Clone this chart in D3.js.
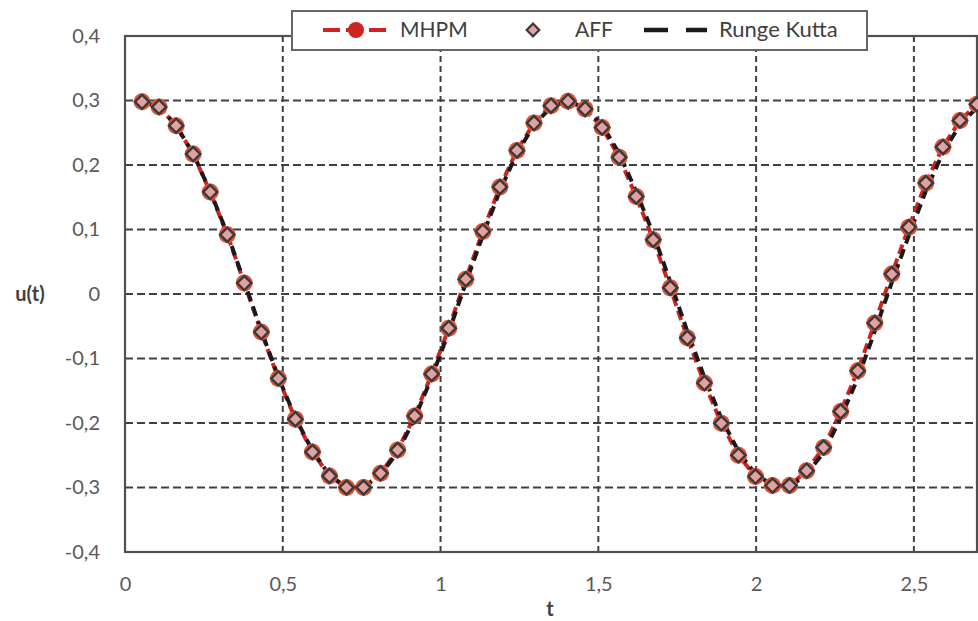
<!DOCTYPE html>
<html><head><meta charset="utf-8">
<script src="https://cdn.jsdelivr.net/npm/d3@7"></script>
<style>body{margin:0;background:#fff} svg{display:block} text{font-family:Lato, "Open Sans", sans-serif}</style>
</head><body><svg id="c" width="978" height="621"></svg>
<script>
const tValues = [0.054,0.108,0.162,0.216,0.270,0.324,0.378,0.432,0.486,0.540,
  0.594,0.648,0.702,0.756,0.810,0.864,0.918,0.972,1.026,1.080,
  1.134,1.188,1.242,1.296,1.350,1.404,1.458,1.512,1.566,1.620,
  1.674,1.728,1.782,1.836,1.890,1.944,1.998,2.052,2.106,2.160,
  2.214,2.268,2.322,2.376,2.430,2.484,2.538,2.592,2.646,2.700];
const mhpmValues = [0.298,0.290,0.261,0.217,0.158,0.092,0.017,-0.059,-0.131,-0.194,
  -0.245,-0.282,-0.300,-0.300,-0.278,-0.242,-0.189,-0.124,-0.053,0.023,
  0.097,0.166,0.2225,0.265,0.292,0.299,0.287,0.258,0.212,0.151,
  0.084,0.0095,-0.068,-0.138,-0.2005,-0.250,-0.283,-0.297,-0.297,-0.274,
  -0.238,-0.182,-0.119,-0.045,0.031,0.1035,0.172,0.228,0.269,0.294];
const affValues = [0.298,0.290,0.261,0.217,0.158,0.092,0.017,-0.059,-0.131,-0.194,
  -0.245,-0.282,-0.300,-0.300,-0.278,-0.242,-0.189,-0.124,-0.053,0.023,
  0.097,0.166,0.2225,0.265,0.292,0.299,0.287,0.258,0.212,0.151,
  0.084,0.0095,-0.068,-0.138,-0.2005,-0.250,-0.283,-0.297,-0.297,-0.274,
  -0.238,-0.182,-0.119,-0.045,0.031,0.1035,0.172,0.228,0.269,0.294];
const rkValues = [0.298,0.290,0.261,0.218,0.159,0.094,0.019,-0.057,-0.129,-0.192,
  -0.243,-0.281,-0.2995,-0.300,-0.280,-0.245,-0.193,-0.129,-0.059,0.017,
  0.091,0.160,0.218,0.262,0.290,0.299,0.289,0.262,0.218,0.159,
  0.093,0.019,-0.058,-0.129,-0.193,-0.244,-0.2795,-0.296,-0.299,-0.279,
  -0.246,-0.192,-0.131,-0.058,0.018,0.0905,0.160,0.219,0.2625,0.289];
const xTickValues = [0,0.5,1,1.5,2,2.5];
const xTickLabels = ["0","0,5","1","1,5","2","2,5"];
const yTickValues = [-0.4,-0.3,-0.2,-0.1,0,0.1,0.2,0.3,0.4];
const yTickLabels = ["-0,4","-0,3","-0,2","-0,1","0","0,1","0,2","0,3","0,4"];
const seriesNames = ["MHPM","AFF","Runge Kutta"];

const svg = d3.select("#c");
const L=125, R=977, T=36, B=552;
const x = d3.scaleLinear().domain([0,2.7]).range([L,R]);
const y = d3.scaleLinear().domain([-0.4,0.4]).range([B,T]);

// grid
const grid = svg.append("g");
grid.selectAll("line.h").data(yTickValues.filter(v=>v>-0.39&&v<0.39)).join("line")
  .attr("x1",L).attr("x2",R).attr("y1",d=>y(d)).attr("y2",d=>y(d))
  .attr("stroke","#404040").attr("stroke-width",2).attr("stroke-dasharray","8,4");
grid.selectAll("line.v").data(xTickValues.filter(v=>v>0)).join("line")
  .attr("x1",d=>x(d)).attr("x2",d=>x(d)).attr("y1",T).attr("y2",B)
  .attr("stroke","#404040").attr("stroke-width",2).attr("stroke-dasharray","6,4");

// axes
const yAxis = d3.axisLeft(y).tickValues(yTickValues).tickSize(0).tickPadding(25)
  .tickFormat((d,i)=>yTickLabels[i]);
const gy = svg.append("g").attr("transform",`translate(${L},0)`).call(yAxis);
gy.select(".domain").remove();
gy.selectAll("text").attr("font-size",20).attr("fill","#595959");
const xAxis = d3.axisBottom(x).tickValues(xTickValues).tickSize(0).tickPadding(25)
  .tickFormat((d,i)=>xTickLabels[i]);
const gx = svg.append("g").attr("transform",`translate(0,${B})`).call(xAxis);
gx.select(".domain").remove();
gx.selectAll("text").attr("font-size",20).attr("fill","#595959");

// border
svg.append("rect").attr("x",L).attr("y",T).attr("width",R-L).attr("height",B-T)
  .attr("fill","none").attr("stroke","#505050").attr("stroke-width",2.2);

const pts = (vals)=>tValues.map((t,i)=>[t,vals[i]]);
const line = d3.line().x(d=>x(d[0])).y(d=>y(d[1]));
svg.append("path").datum(pts(mhpmValues)).attr("d",line).attr("fill","none")
  .attr("stroke","#cc2420").attr("stroke-width",4).attr("stroke-dasharray","10,5");
svg.append("path").datum(pts(rkValues)).attr("d",line).attr("fill","none")
  .attr("stroke","#1a1a1a").attr("stroke-width",4).attr("stroke-dasharray","10,6");
svg.append("g").selectAll("circle").data(pts(mhpmValues)).join("circle")
  .attr("cx",d=>x(d[0])).attr("cy",d=>y(d[1])).attr("r",8.5).attr("fill","#e0523a");
const diamond = d3.symbol(d3.symbolSquare, 100);
svg.append("g").selectAll("path").data(pts(affValues)).join("path")
  .attr("d",diamond).attr("transform",d=>`translate(${x(d[0])},${y(d[1])}) rotate(45)`)
  .attr("fill","#e3a2a2").attr("stroke","#3a3a3a").attr("stroke-width",2.4);

// axis titles
svg.append("text").attr("x",30).attr("y",301).attr("text-anchor","middle")
  .attr("font-size",20).attr("font-weight","bold").attr("fill","#404040").text("u(t)");
svg.append("text").attr("x",550).attr("y",616).attr("text-anchor","middle")
  .attr("font-size",20).attr("font-weight","bold").attr("fill","#404040").text("t");

// legend
const lg = svg.append("g");
lg.append("rect").attr("x",292).attr("y",11).attr("width",575).attr("height",39)
  .attr("fill","#fff").attr("stroke","#666").attr("stroke-width",2);
const ly = 30;
lg.append("line").attr("x1",323).attr("x2",387).attr("y1",ly).attr("y2",ly)
  .attr("stroke","#cc2420").attr("stroke-width",4).attr("stroke-dasharray","17,6");
lg.append("circle").attr("cx",356).attr("cy",ly).attr("r",8).attr("fill","#cc2420");
lg.append("text").attr("x",400).attr("y",ly+7).attr("font-size",21).attr("fill","#404040").text(seriesNames[0]);
lg.append("path").attr("d",d3.symbol(d3.symbolSquare, 80)).attr("transform",`translate(533,${ly}) rotate(45)`)
  .attr("fill","#e3a2a2").attr("stroke","#3a3a3a").attr("stroke-width",2.2);
lg.append("text").attr("x",575).attr("y",ly+7).attr("font-size",21).attr("fill","#404040").text(seriesNames[1]);
lg.append("line").attr("x1",644).attr("x2",707).attr("y1",ly).attr("y2",ly)
  .attr("stroke","#1a1a1a").attr("stroke-width",4.5).attr("stroke-dasharray","24,18");
lg.append("text").attr("x",719).attr("y",ly+7).attr("font-size",22).attr("fill","#404040").text(seriesNames[2]);
</script></body></html>
